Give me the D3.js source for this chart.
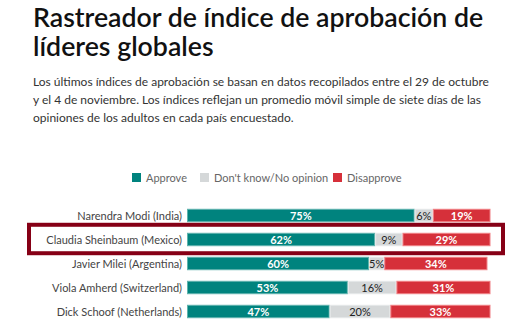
<!DOCTYPE html>
<html>
<head>
<meta charset="utf-8">
<script src="https://cdn.jsdelivr.net/npm/d3@7"></script>
<style>
  body { margin: 0; background: #fff; }
  svg { display: block; }
</style>
</head>
<body>
<script>
// Chart data
var leaders = ["Narendra Modi (India)", "Claudia Sheinbaum (Mexico)", "Javier Milei (Argentina)", "Viola Amherd (Switzerland)", "Dick Schoof (Netherlands)"];
var approve = [75, 62, 60, 53, 47];
var dontKnow = [6, 9, 5, 16, 20];
var disapprove = [19, 29, 34, 31, 33];
var seriesNames = ["Approve", "Don't know/No opinion", "Disapprove"];
var highlighted = "Claudia Sheinbaum (Mexico)";

var titleLines = ["Rastreador de índice de aprobación de", "líderes globales"];
var subtitleLines = [
  "Los últimos índices de aprobación se basan en datos recopilados entre el 29 de octubre",
  "y el 4 de noviembre. Los índices reflejan un promedio móvil simple de siete días de las",
  "opiniones de los adultos en cada país encuestado."
];

var svgWidth = 527;
var svgHeight = 323;
var font = "Lato, 'Open Sans', sans-serif";

var fills = ["#00837e", "#d5d8d9", "#d6303a"];
var strokes = ["#5fb3ad", "#e6e8e9", "#f07f84"];
var labelColors = ["#fff", "#222", "#fff"];

var svg = d3.select("body")
  .append("svg")
  .attr("width", svgWidth)
  .attr("height", svgHeight);

// Title (one text, two lines)
svg.append("text")
  .attr("font-family", font)
  .attr("font-size", 26.7)
  .attr("font-weight", 600)
  .attr("fill", "#111")
  .selectAll("tspan")
  .data(titleLines)
  .join("tspan")
  .attr("x", 33)
  .attr("y", (d, i) => 27 + i * 29)
  .text(d => d);

// Subtitle
svg.append("text")
  .attr("font-family", font)
  .attr("font-size", 12)
  .attr("fill", "#333")
  .selectAll("tspan")
  .data(subtitleLines)
  .join("tspan")
  .attr("x", 33)
  .attr("y", (d, i) => 86 + i * 18)
  .text(d => d);

// Build stacked rows
var rows = leaders.map((name, i) => ({
  name: name,
  Approve: approve[i],
  "Don't know/No opinion": dontKnow[i],
  Disapprove: disapprove[i]
}));
var stacked = d3.stack().keys(seriesNames)(rows);

var x = d3.scaleLinear().domain([0, 100]).range([187, 490.5]);
var y = d3.scaleBand().domain(leaders).range([203.5, 323.5]).paddingInner(0.44).paddingOuter(0.22);

// Legend
var legendX = [132, 200, 333];
var legend = svg.append("g").selectAll("g")
  .data(seriesNames)
  .join("g")
  .attr("transform", (d, i) => `translate(${legendX[i]}, 173)`);
legend.append("rect")
  .attr("width", 9)
  .attr("height", 9)
  .attr("fill", (d, i) => fills[i]);
legend.append("text")
  .attr("x", 14)
  .attr("y", 8.5)
  .attr("font-family", font)
  .attr("font-size", 11)
  .attr("fill", "#666")
  .text(d => d);

// Bars
var groups = svg.append("g").selectAll("g")
  .data(stacked)
  .join("g");

groups.selectAll("rect")
  .data((d, si) => d.map(v => ({v: v, si: si})))
  .join("rect")
  .attr("x", d => x(d.v[0]) + 0.5)
  .attr("y", d => y(d.v.data.name) + 0.5)
  .attr("width", d => x(d.v[1]) - x(d.v[0]) - 1)
  .attr("height", y.bandwidth() - 1)
  .attr("fill", d => fills[d.si])
  .attr("stroke", d => strokes[d.si])
  .attr("stroke-width", 1);

groups.selectAll("text")
  .data((d, si) => d.map(v => ({v: v, si: si, key: d.key})))
  .join("text")
  .attr("x", d => (x(d.v[0]) + x(d.v[1])) / 2)
  .attr("y", d => y(d.v.data.name) + y.bandwidth() / 2 + 4)
  .attr("text-anchor", "middle")
  .attr("font-family", font)
  .attr("font-size", 11)
  .attr("font-weight", d => d.si === 1 ? 400 : 700)
  .attr("fill", d => labelColors[d.si])
  .text(d => d.v.data[d.key] + "%");

// Leader names
svg.append("g").selectAll("text")
  .data(leaders)
  .join("text")
  .attr("x", 182)
  .attr("y", d => y(d) + y.bandwidth() / 2 + 4)
  .attr("text-anchor", "end")
  .attr("font-family", font)
  .attr("font-size", 11)
  .attr("fill", "#444")
  .text(d => d);

// Highlight box
svg.append("rect")
  .attr("x", 29)
  .attr("y", y(highlighted) - 8)
  .attr("width", 474)
  .attr("height", y.bandwidth() + 15)
  .attr("fill", "none")
  .attr("stroke", "#860016")
  .attr("stroke-width", 4);
</script>
</body>
</html>
